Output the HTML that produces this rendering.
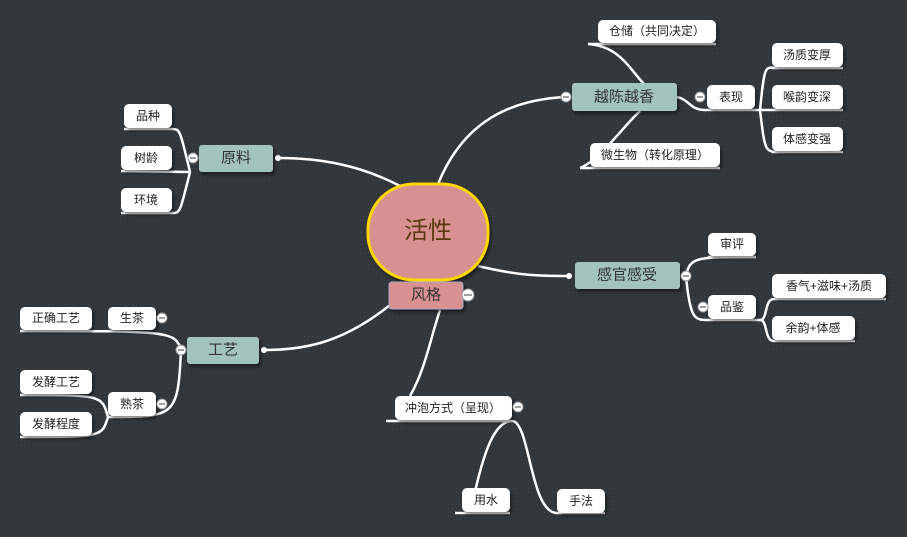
<!DOCTYPE html>
<html><head><meta charset="utf-8"><style>
html,body{margin:0;padding:0;background:#32373b;}
svg{display:block;}
text{font-family:"Liberation Sans","Noto Sans CJK SC",sans-serif;}
.l{fill:#fff;filter:url(#sh);}
.lt{font-size:12px;fill:#222;text-anchor:middle;dominant-baseline:central;}
.c{fill:none;stroke:#fff;stroke-width:2.5;}
.u{stroke:#fff;stroke-width:2.5;}
.col{fill:#fff;stroke:#999;stroke-width:1;}
.t{fill:#a3c4bd;filter:url(#sh);}
.tt{font-size:15px;fill:#333;text-anchor:middle;dominant-baseline:central;}
</style></head><body>
<svg width="907" height="537" viewBox="0 0 907 537">
<defs><pattern id="p" width="4" height="4" patternUnits="userSpaceOnUse"><rect width="4" height="4" fill="#32373b"/><rect width="1" height="1" fill="#3e4347"/></pattern>
<filter id="sh" x="-10%" y="-20%" width="130%" height="160%"><feDropShadow dx="2" dy="3" stdDeviation="1.5" flood-color="#000" flood-opacity="0.45"/></filter></defs>
<rect width="907" height="537" fill="url(#p)"/>
<!-- connectors -->
<path class="c" d="M438,184 C460,130 500,100 566,97"/>
<path class="c" d="M400,186 C360,165 320,158 278,158"/>
<path class="c" d="M478,266 C520,276 540,276 569,276"/>
<path class="c" d="M390,305 C340,345 300,350 264,350"/>
<path class="c" d="M440,310 C430,340 425,370 410,396"/>
<path class="c" d="M588,44 C620,46 630,70 645,85"/>
<path class="c" d="M580,168 C600,160 620,130 640,111"/>
<path class="c" d="M677,97 C690,100 690,110 705,110 L760,110"/>
<path class="c" d="M760,110 C765,60 765,68 780,68 M760,110 L843,110 M760,110 C765,152 765,152 780,152"/>
<path class="c" d="M190,172 C180,130 180,129 172,129 M190,172 L121,171 M190,172 C180,213 180,213 172,213"/>
<path class="c" d="M181,350 C175,331 170,331 20,331 M181,350 C178,417 175,417 108,417"/>
<path class="c" d="M108,417 C102,395 102,395 20,395 M108,417 C102,437 102,437 20,437"/>
<path class="c" d="M686,276 C690,257 695,257 756,257 M686,276 C690,320 695,320 708,320"/>
<path class="c" d="M708,320 L760,320 C768,320 764,299 774,299 L886,299 M760,320 C768,320 764,341 774,341 L855,341"/>
<path class="c" d="M386,421 L512,421 C530,421 530,513 557,513 L605,513 M512,421 C490,421 480,470 470,513 L455,513 L510,513"/>
<line class="u" x1="588" y1="44" x2="716" y2="44"/>
<line class="u" x1="580" y1="168" x2="720" y2="168"/>
<line class="u" x1="772" y1="68" x2="843" y2="68"/>
<line class="u" x1="772" y1="152" x2="843" y2="152"/>
<line class="u" x1="124" y1="129" x2="172" y2="129"/>
<line class="u" x1="121" y1="213" x2="172" y2="213"/>
<line class="u" x1="708" y1="257" x2="756" y2="257"/>
<!-- center -->
<rect x="368" y="184" width="120" height="96" rx="46" fill="#d99090" stroke="#ffd700" stroke-width="3" filter="url(#sh)"/>
<text x="428" y="231" font-size="24" fill="#5a3a10" text-anchor="middle" dominant-baseline="central">活性</text>
<rect x="389" y="282" width="74" height="27" rx="3" fill="#d99090" stroke="#aac" stroke-width="1" filter="url(#sh)"/>
<text x="426" y="295" class="tt">风格</text>
<!-- teal -->
<rect class="t" x="572" y="83" width="105" height="28" rx="3"/><text class="tt" x="624" y="97">越陈越香</text>
<rect class="t" x="199" y="145" width="74" height="27" rx="3"/><text class="tt" x="236" y="158">原料</text>
<rect class="t" x="575" y="262" width="105" height="27" rx="3"/><text class="tt" x="627" y="275">感官感受</text>
<rect class="t" x="187" y="337" width="72" height="27" rx="3"/><text class="tt" x="223" y="350">工艺</text>
<!-- leaves -->
<rect class="l" x="598" y="20" width="118" height="23" rx="5"/><text class="lt" x="657" y="31">仓储（共同决定）</text>
<rect class="l" x="590" y="143" width="130" height="24" rx="5"/><text class="lt" x="655" y="155">微生物（转化原理）</text>
<rect class="l" x="707" y="85" width="48" height="24" rx="5"/><text class="lt" x="731" y="97">表现</text>
<rect class="l" x="772" y="43" width="71" height="24" rx="5"/><text class="lt" x="807" y="55">汤质变厚</text>
<rect class="l" x="772" y="85" width="71" height="24" rx="5"/><text class="lt" x="807" y="97">喉韵变深</text>
<rect class="l" x="772" y="127" width="71" height="24" rx="5"/><text class="lt" x="807" y="139">体感变强</text>
<rect class="l" x="124" y="104" width="48" height="24" rx="5"/><text class="lt" x="148" y="116">品种</text>
<rect class="l" x="121" y="146" width="51" height="24" rx="5"/><text class="lt" x="146" y="158">树龄</text>
<rect class="l" x="121" y="188" width="51" height="24" rx="5"/><text class="lt" x="146" y="200">环境</text>
<rect class="l" x="708" y="233" width="48" height="23" rx="5"/><text class="lt" x="732" y="244">审评</text>
<rect class="l" x="708" y="295" width="48" height="24" rx="5"/><text class="lt" x="732" y="307">品鉴</text>
<rect class="l" x="772" y="274" width="114" height="24" rx="5"/><text class="lt" x="829" y="286">香气+滋味+汤质</text>
<rect class="l" x="772" y="316" width="83" height="24" rx="5"/><text class="lt" x="813" y="328">余韵+体感</text>
<rect class="l" x="108" y="307" width="48" height="23" rx="5"/><text class="lt" x="132" y="318">生茶</text>
<rect class="l" x="20" y="307" width="72" height="23" rx="5"/><text class="lt" x="56" y="318">正确工艺</text>
<rect class="l" x="108" y="392" width="48" height="24" rx="5"/><text class="lt" x="132" y="404">熟茶</text>
<rect class="l" x="20" y="370" width="72" height="24" rx="5"/><text class="lt" x="56" y="382">发酵工艺</text>
<rect class="l" x="20" y="412" width="72" height="24" rx="5"/><text class="lt" x="56" y="424">发酵程度</text>
<rect class="l" x="395" y="396" width="117" height="24" rx="5"/><text class="lt" x="453" y="408">冲泡方式（呈现）</text>
<rect class="l" x="462" y="488" width="48" height="24" rx="5"/><text class="lt" x="486" y="500">用水</text>
<rect class="l" x="557" y="489" width="48" height="24" rx="5"/><text class="lt" x="581" y="501">手法</text>
<!-- collapse circles -->
<g>
<circle class="col" cx="566" cy="97" r="5"/><circle class="col" cx="700" cy="97" r="5"/>
<circle class="col" cx="193" cy="158" r="5"/><circle class="col" cx="686" cy="276" r="5"/>
<circle class="col" cx="703" cy="307" r="5"/><circle class="col" cx="181" cy="350" r="5"/>
<circle class="col" cx="162" cy="318" r="5"/><circle class="col" cx="162" cy="404" r="5"/>
<circle class="col" cx="518" cy="407" r="5"/><circle class="col" cx="468" cy="295" r="6"/>
</g>
<g stroke="#666" stroke-width="1.2">
<path d="M563,97h6M697,97h6M190,158h6M683,276h6M700,307h6M178,350h6M159,318h6M159,404h6M515,407h6M464,295h8"/>
</g>
<circle cx="278" cy="158" r="3" fill="#fff"/><circle cx="569" cy="276" r="3" fill="#fff"/><circle cx="264" cy="350" r="3" fill="#fff"/>
</svg>
</body></html>
